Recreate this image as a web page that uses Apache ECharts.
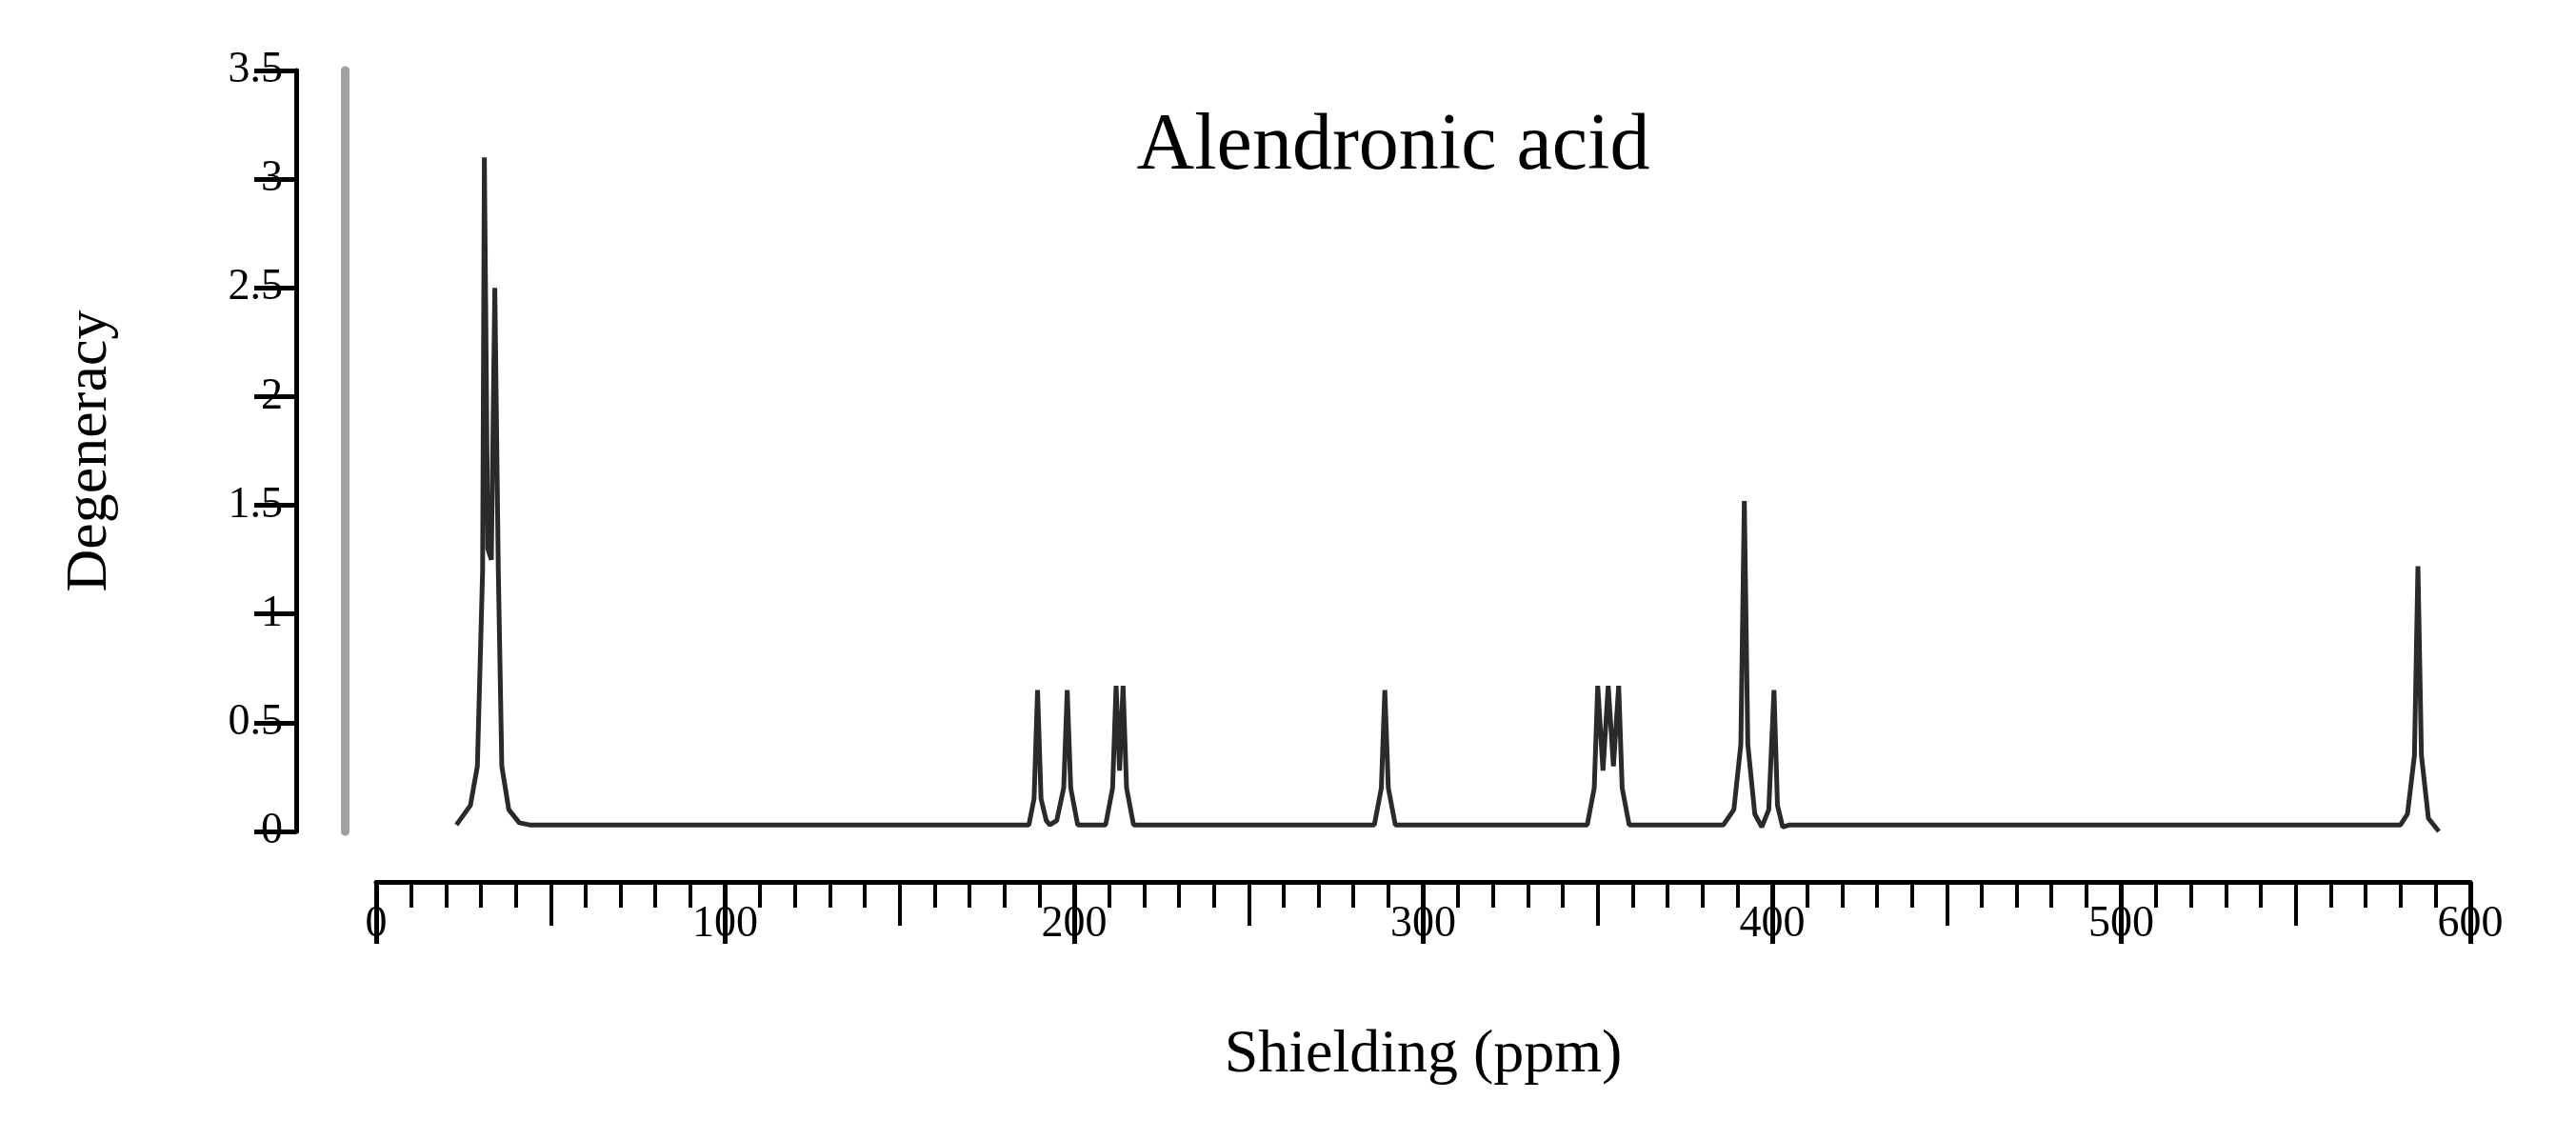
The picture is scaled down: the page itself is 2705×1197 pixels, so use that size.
<!DOCTYPE html><html><head><meta charset="utf-8">
<script src="https://cdn.jsdelivr.net/npm/echarts@6/dist/echarts.min.js"></script>
<style>html,body{margin:0;background:#fff}#c{width:2705px;height:1197px}</style></head><body><div id="c"></div>
<script>
const title = 'Alendronic acid';
const xName = 'Shielding (ppm)';
const yName = 'Degeneracy';
// spectrum points [shielding, degeneracy]
const spectrum = [
 [23,0.03],[27,0.12],[29,0.3],[30.5,1.2],[31,3.1],[32,1.3],[33,1.25],[34,2.5],[35,1.2],[36,0.3],[38,0.1],[41,0.04],[44,0.03],
 [187,0.03],[188.5,0.15],[189.5,0.65],[190.5,0.15],[192,0.05],[193,0.03],
 [195,0.05],[197,0.2],[198,0.65],[199,0.2],[201,0.03],
 [209,0.03],[211,0.2],[212,0.67],[213,0.28],[214,0.67],[215,0.2],[217,0.03],
 [286,0.03],[288,0.2],[289,0.65],[290,0.2],[292,0.03],
 [347,0.03],[349,0.2],[350,0.67],[351.5,0.28],[353,0.67],[354.5,0.3],[356,0.67],[357,0.2],[359,0.03],
 [386,0.03],[389,0.1],[391,0.4],[392,1.52],[393,0.4],[395,0.08],[397,0.02],[399,0.1],[400.5,0.65],[401.5,0.12],[403,0.02],[405,0.03],
 [580,0.03],[582,0.08],[584,0.35],[585,1.22],[586,0.35],[588,0.06],[591,0.0]
];
const serif = 'Liberation Serif';
const chart = echarts.init(document.getElementById('c'));
chart.setOption({
 animation:false,
 title:{text:title,left:1458,top:108,textAlign:'center',textStyle:{fontFamily:serif,fontSize:84,fontWeight:'normal',color:'#000'}},
 grid:{left:395,right:111,top:74,bottom:324},
 xAxis:[{type:'value',min:0,max:600,interval:100,position:'bottom',offset:53,
   axisLine:{onZero:false,lineStyle:{color:'#000',width:5}},
   axisTick:{inside:false,length:65,lineStyle:{width:5,color:'#000'}},
   minorTick:{show:true,splitNumber:10,length:27,lineStyle:{width:4,color:'#000'}},
   splitLine:{show:false},
   axisLabel:{fontFamily:serif,fontSize:46,color:'#000',margin:22},
   name:xName,nameLocation:'middle',nameGap:150,nameTextStyle:{fontFamily:serif,fontSize:64,color:'#000'}},
  {type:'value',min:0,max:600,interval:50,position:'bottom',offset:53,
   axisLine:{show:false,onZero:false},axisTick:{length:46,lineStyle:{width:4,color:'#000'}},
   axisLabel:{show:false},splitLine:{show:false}}],
 yAxis:[{type:'value',min:0,max:3.5,interval:0.5,offset:84,
   axisLine:{show:true,onZero:false,lineStyle:{color:'#000',width:5}},
   axisTick:{show:true,inside:false,length:44,lineStyle:{width:5,color:'#000'}},
   splitLine:{show:false},
   axisLabel:{fontFamily:serif,fontSize:46,color:'#000',margin:14},
   name:yName,nameLocation:'middle',nameGap:185,nameTextStyle:{fontFamily:serif,fontSize:62,color:'#000'}},
  {type:'value',min:-0.1,max:3.55,offset:33,position:'left',
   axisLine:{show:true,onZero:false,lineStyle:{color:'#a0a0a0',width:9}},
   axisTick:{show:false},axisLabel:{show:false},splitLine:{show:false}}],
 series:[{type:'line',data:spectrum,xAxisIndex:0,yAxisIndex:0,showSymbol:false,
   lineStyle:{color:'#2a2a2a',width:5}}]
});
</script></body></html>
